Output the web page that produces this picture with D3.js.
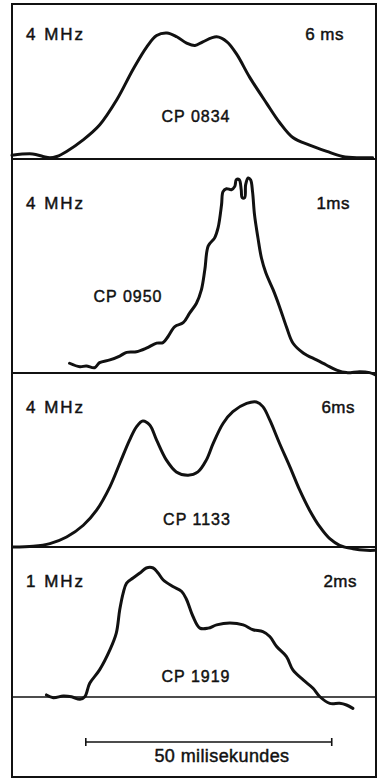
<!DOCTYPE html>
<html>
<head>
<meta charset="utf-8">
<script src="https://cdn.jsdelivr.net/npm/d3@7"></script>
<style>
  html, body { margin: 0; padding: 0; background: #fff; }
  svg { display: block; }
  text { font-family: "Liberation Sans", "DejaVu Sans", sans-serif; fill: #111; stroke: #111; stroke-width: 0.45px; }
</style>
</head>
<body>
<svg id="chart" width="381" height="780"></svg>
<script>
// ---- DATA (time in ms, intensity normalized to peak = 100) ----
const pulsars = ["CP 0834", "CP 0950", "CP 1133", "CP 1919"];
const frequencies = ["4 MHz", "4 MHz", "4 MHz", "1 MHz"];
const resolutions = ["6 ms", "1ms", "6ms", "2ms"];

const t0834 = [-15.0,-10.8,-8.7,-7.3,-5.9,-3.9,-0.6,2.8,6.3,9.6,12.4,14.4,16.5,18.5,20.5,22.2,23.8,26.6,28.7,30.7,33.3,36.8,39.4,42.1,45.5,49.0,52.2,55.7,58.3];
const i0834 = [3,4,2,1,2,6,15,27,47,71,89,98,100,97,92,90,93,97,93,83,65,44,29,17,11,6,2,1,1];

const t0950 = [-3.3,-1.2,0.1,1.8,2.8,4.9,6.9,8.3,10.3,12.3,14.4,15.7,16.7,18.1,19.8,21.1,22.5,23.5,24.2,24.9,26.2,26.9,27.6,27.9,28.6,29.6,30.3,30.6,31.2,31.6,31.8,32.3,32.5,33.0,33.5,33.9,34.3,35.0,35.7,36.6,38.1,39.4,40.8,42.1,44.2,46.9,48.9,51.0,53.0,55.7,57.7,58.9];
const i0950 = [5.0,3.2,3.6,2.7,5.3,6.7,8.7,10.6,10.9,12.7,15.3,15.6,18.6,23.8,25.8,30.7,35.8,42.6,52.9,65.2,69.3,74.5,86.3,93.0,94.5,94.0,95.7,99.1,99.1,94.0,89.9,89.9,96.6,100,99.1,93.0,81.2,69.3,59.1,51.4,42.6,33.9,23.6,15.4,10.3,6.7,4.1,1.5,0.2,0.7,0.2,-1.0];

const t1133 = [-14.8,-10.7,-7.3,-3.9,-0.5,2.2,4.9,6.9,8.9,10.3,11.6,13.0,14.4,16.4,18.4,20.8,22.8,24.5,25.9,27.9,29.9,32.7,34.7,36.0,37.4,39.4,41.5,43.5,45.5,47.6,49.6,51.6,54.3,57.1,58.7];
const i1133 = [0,0.5,2.3,6.9,15.0,25.4,41.5,57.6,73.7,82.9,86.9,84.1,73.7,59.9,51.8,49.5,51.8,59.9,71.4,85.2,93.3,99.0,100,96.8,87.6,71.4,55.3,39.2,25.4,13.8,5.7,1.2,-1.2,-2.3,-2.3];

const t1919 = [-8.0,-6.6,-4.6,-2.9,-1.2,-0.2,0.8,2.8,4.9,6.2,6.9,7.6,8.3,9.6,11.0,12.3,13.7,14.7,15.7,17.7,19.5,20.5,21.8,23.2,24.9,26.6,29.3,32.0,34.0,36.0,37.4,38.8,40.8,42.1,44.2,46.2,47.6,49.6,51.6,53.0,54.3];
const i1919 = [1.6,-0.5,0.8,0.2,-1.8,0.2,10.6,21.0,36.5,49.5,67.6,80.6,88.3,92.2,96.1,100,100,96.1,90.9,85.7,81.8,75.4,62.4,53.4,53.4,55.9,57.3,55.9,52.1,50.7,46.9,39.1,31.3,21.0,13.2,6.8,0.2,-4.9,-4.9,-6.2,-8.8];

const scaleBarMs = [0, 50];
const scaleBarLabel = "50 milisekundes";

const times = [t0834, t0950, t1133, t1919];
const intensities = [i0834, i0950, i1133, i1919];

// ---- LAYOUT ----
const svg = d3.select("#chart");
const frame = { left: 12, right: 376, top: 4, bottom: 777 };
const baselines = [159, 373, 547, 697];
const peakPx = [126, 195, 145, 129];
const labelY = [40, 209, 413, 587];
const resRight = [344, 350, 355, 357];
const nameX = [196, 128, 197, 196];
const nameDy = [-37, -71, -22, -15];

const x = d3.scaleLinear().domain([-15, 59]).range([frame.left, frame.right]);

// outer frame
svg.append("rect")
  .attr("x", frame.left).attr("y", frame.top)
  .attr("width", frame.right - frame.left).attr("height", frame.bottom - frame.top)
  .attr("fill", "none").attr("stroke", "#111").attr("stroke-width", 2);

pulsars.forEach((name, k) => {
  const y = d3.scaleLinear().domain([0, 100]).range([baselines[k], baselines[k] - peakPx[k]]);
  const g = svg.append("g");
  // baseline / divider
  g.append("line")
    .attr("x1", frame.left).attr("x2", frame.right)
    .attr("y1", baselines[k]).attr("y2", baselines[k])
    .attr("stroke", "#111").attr("stroke-width", k === 3 ? 1.5 : 2);
  const pts = times[k].map((t, j) => [t, intensities[k][j]]);
  const line = d3.line()
    .x(d => x(d[0])).y(d => y(d[1]))
    .curve(d3.curveCatmullRom.alpha(0.5));
  g.append("path")
    .attr("d", line(pts))
    .attr("fill", "none").attr("stroke", "#111")
    .attr("stroke-width", 3).attr("stroke-linejoin", "round").attr("stroke-linecap", "round");
  g.append("text").attr("x", 26).attr("y", labelY[k])
    .attr("font-size", 17).attr("letter-spacing", 2).text(frequencies[k]);
  g.append("text").attr("x", resRight[k]).attr("y", labelY[k])
    .attr("text-anchor", "end").attr("font-size", 17).attr("letter-spacing", 0.5).text(resolutions[k]);
  g.append("text").attr("x", nameX[k]).attr("y", baselines[k] + nameDy[k])
    .attr("text-anchor", "middle").attr("font-size", 16).attr("letter-spacing", 1).text(name);
});

// scale bar
const barY = 742;
svg.append("line")
  .attr("x1", x(scaleBarMs[0])).attr("x2", x(scaleBarMs[1]))
  .attr("y1", barY).attr("y2", barY)
  .attr("stroke", "#111").attr("stroke-width", 1.6);
scaleBarMs.forEach(v => {
  svg.append("line")
    .attr("x1", x(v)).attr("x2", x(v))
    .attr("y1", barY - 4).attr("y2", barY + 4)
    .attr("stroke", "#111").attr("stroke-width", 1.6);
});
svg.append("text")
  .attr("x", 222)
  .attr("y", 762)
  .attr("text-anchor", "middle").attr("font-size", 18).attr("letter-spacing", 0.4)
  .text(scaleBarLabel);
</script>
</body>
</html>
